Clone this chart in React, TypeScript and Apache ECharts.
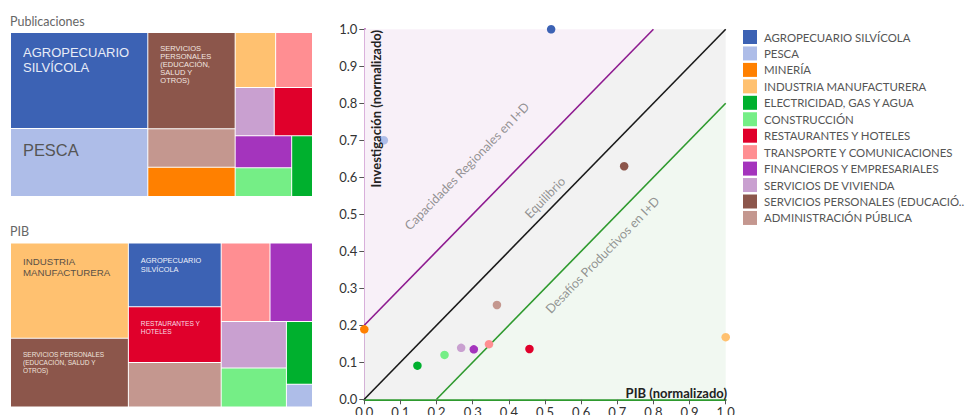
import React, { useEffect, useRef } from 'react';
import * as echarts from 'echarts';

// ---------- data ----------
const sectors = [
  'AGROPECUARIO SILVÍCOLA',
  'PESCA',
  'MINERÍA',
  'INDUSTRIA MANUFACTURERA',
  'ELECTRICIDAD, GAS Y AGUA',
  'CONSTRUCCIÓN',
  'RESTAURANTES Y HOTELES',
  'TRANSPORTE Y COMUNICACIONES',
  'FINANCIEROS Y EMPRESARIALES',
  'SERVICIOS DE VIVIENDA',
  'SERVICIOS PERSONALES (EDUCACIÓN, SALUD Y OTROS)',
  'ADMINISTRACIÓN PÚBLICA',
];
const sectorColors = [
  '#3c62b4', '#aebde8', '#ff8000', '#ffc170', '#00b02e', '#75ee86',
  '#e0002b', '#ff8e92', '#a434bd', '#c9a0d0', '#8c564b', '#c4978f',
];
// share of publications (%)
const publicaciones = [26.6, 18.9, 5.15, 4.5, 2.56, 3.27, 3.72, 4.1, 3.68, 3.8, 17.0, 6.8];
// share of GDP (%)
const pib = [11.95, 1.2, 0.01, 22.7, 3.3, 5.15, 10.45, 7.75, 6.75, 6.1, 16.35, 8.35];
// normalized values for the scatter
const pibNormalizado = [0.517, 0.054, 0.0, 1.0, 0.147, 0.222, 0.457, 0.345, 0.303, 0.268, 0.719, 0.367];
const investigacionNormalizado = [1.0, 0.70, 0.189, 0.168, 0.091, 0.12, 0.136, 0.149, 0.135, 0.139, 0.63, 0.255];

// treemap label texts (sector index -> text)
const pubLabelTexts: Record<number, string> = {
  0: 'AGROPECUARIO\nSILVÍCOLA',
  1: 'PESCA',
  10: 'SERVICIOS\nPERSONALES\n(EDUCACIÓN,\nSALUD Y\nOTROS)',
};
const pibLabelTexts: Record<number, string> = {
  3: 'INDUSTRIA\nMANUFACTURERA',
  0: 'AGROPECUARIO\nSILVÍCOLA',
  6: 'RESTAURANTES Y\nHOTELES',
  10: 'SERVICIOS PERSONALES\n(EDUCACIÓN, SALUD Y\nOTROS)',
};

// zone boundaries (data coordinates)
const lineCapacidades = [[0, 0.2], [0.8, 1]];
const lineEquilibrio = [[0, 0], [1, 1]];
const lineDesafios = [[0.2, 0], [1, 0.8]];
const zonePolygons = [
  [[0, 0.2], [0.8, 1], [0, 1]],
  [[0, 0], [0.2, 0], [1, 0.8], [1, 1], [0.8, 1], [0, 0.2]],
  [[0.2, 0], [1, 0], [1, 0.8]],
];
const zoneNames = ['Capacidades Regionales en I+D', 'Equilibrio', 'Desafíos Productivos en I+D'];
const zoneLabelAnchors = [[0.284, 0.63], [0.5, 0.545], [0.659, 0.39]];

// ---------- styles ----------
const pubLabelStyles: Record<number, any> = {
  0: { fontSize: 13, lineHeight: 15.3, color: '#e8ecf7' },
  1: { fontSize: 16.4, lineHeight: 18, color: '#555555' },
  10: { fontSize: 7.5, lineHeight: 7.8, color: '#f3e6e0' },
};
const pibLabelStyles: Record<number, any> = {
  3: { fontSize: 9.7, lineHeight: 11.6, color: '#5a5046' },
  0: { fontSize: 7.4, lineHeight: 9.6, color: '#eef1fa' },
  6: { fontSize: 6.6, lineHeight: 8.3, color: '#f8dde2' },
  10: { fontSize: 6.5, lineHeight: 7.7, color: '#efe3de' },
};
const zoneColors = ['#f8f0f8', '#f2f2f2', '#f1f8f1'];
const FONT = 'Lato, "Noto Sans", sans-serif';
const TM_FONT = '"Liberation Sans", Arial, sans-serif';

function treemapData(values: number[], labels: Record<number, string>, styles: Record<number, any>) {
  return values.map((v, i) => {
    const item: any = {
      name: sectors[i],
      value: v,
      itemStyle: { color: sectorColors[i] },
    };
    if (labels[i] !== undefined) {
      item.label = {
        show: true,
        formatter: labels[i],
        position: [12, 12],
        align: 'left',
        verticalAlign: 'top',
        padding: 0,
        fontFamily: TM_FONT,
        overflow: 'none',
        ...styles[i],
      };
    }
    return item;
  });
}

function treemapSeries(top: number, values: number[], labels: Record<number, string>, styles: Record<number, any>) {
  return {
    type: 'treemap',
    left: 11,
    top,
    width: 301,
    height: 163,
    roam: false,
    nodeClick: false,
    silent: true,
    sort: 'desc',
    breadcrumb: { show: false },
    itemStyle: { borderWidth: 0, gapWidth: 1, borderColor: '#ffffff' },
    label: { show: false, padding: 0 },
    upperLabel: { show: false },
    emphasis: { disabled: true },
    data: treemapData(values, labels, styles),
  };
}

export default function App() {
  const ref = useRef<HTMLDivElement>(null);
  useEffect(() => {
    if (!ref.current) return;
    const chart = echarts.init(ref.current, undefined, { renderer: 'svg' });

    const scatterSeries = sectors.map((name, i) => ({
      type: 'scatter',
      name,
      z: 5,
      clip: false,
      symbol: 'circle',
      symbolSize: 8.5,
      itemStyle: { color: sectorColors[i], opacity: 1 },
      data: [[pibNormalizado[i], investigacionNormalizado[i]]],
      emphasis: { disabled: true },
    }));

    const lineStyleFor = (color: string) => ({
      type: 'line',
      symbol: 'none',
      silent: true,
      z: 3,
      lineStyle: { color, width: 1.6 },
      emphasis: { disabled: true },
    });

    const option: any = {
      animation: false,
      textStyle: { fontFamily: FONT },
      title: [
        { text: 'Publicaciones', left: 10, top: 15, padding: 0, textStyle: { fontFamily: FONT, fontSize: 12.5, fontWeight: 'normal', color: '#666' } },
        { text: 'PIB', left: 10, top: 225, padding: 0, textStyle: { fontFamily: FONT, fontSize: 12.5, fontWeight: 'normal', color: '#666' } },
      ],
      legend: {
        data: sectors,
        orient: 'vertical',
        left: 743,
        top: 30,
        itemWidth: 14,
        itemHeight: 14,
        itemGap: 2.45,
        icon: 'rect',
        selectedMode: false,
        padding: 0,
        textStyle: {
          fontFamily: FONT,
          fontSize: 11.4,
          color: '#555',
          width: 204,
          overflow: 'truncate',
          ellipsis: '..',
          padding: [0, 0, 0, 2],
        },
      },
      grid: {
        left: 364.3,
        top: 29.3,
        right: 244.3,
        bottom: 15.7,
        containLabel: false,
        outerBoundsMode: 'none',
      },
      xAxis: {
        type: 'value',
        min: 0,
        max: 1,
        interval: 0.1,
        splitLine: { show: false },
        axisLine: { show: true, onZero: false, lineStyle: { color: '#2e9a2e', width: 2 } },
        axisTick: { show: true, length: 5, lineStyle: { color: '#555' } },
        axisLabel: { margin: 6, fontSize: 13, color: '#333', fontFamily: FONT, formatter: (v: number) => v.toFixed(1) },
      },
      yAxis: {
        type: 'value',
        min: 0,
        max: 1,
        interval: 0.1,
        splitLine: { show: false },
        axisLine: { show: true, onZero: false, lineStyle: { color: '#93219a', width: 2 } },
        axisTick: { show: true, length: 5, lineStyle: { color: '#555' } },
        axisLabel: { margin: 7, fontSize: 13, color: '#333', fontFamily: FONT, formatter: (v: number) => v.toFixed(1) },
      },
      graphic: [
        {
          type: 'text',
          x: 376,
          y: 30,
          rotation: Math.PI / 2,
          z: 10,
          style: {
            text: 'Investigación (normalizado)',
            font: `bold 13px ${FONT}`,
            fill: '#222',
            align: 'right',
            verticalAlign: 'middle',
          },
        },
        {
          type: 'text',
          x: 727,
          y: 393,
          z: 10,
          style: {
            text: 'PIB (normalizado)',
            font: `bold 13px ${FONT}`,
            fill: '#222',
            align: 'right',
            verticalAlign: 'middle',
          },
        },
      ],
      series: [
        treemapSeries(33, publicaciones, pubLabelTexts, pubLabelStyles),
        treemapSeries(243.5, pib, pibLabelTexts, pibLabelStyles),
        {
          type: 'custom',
          silent: true,
          z: 1,
          clip: false,
          data: zonePolygons.map((p) => p[0]),
          renderItem: (params: any, api: any) => {
            const poly = zonePolygons[params.dataIndex];
            return {
              type: 'polygon',
              shape: { points: poly.map((pt) => api.coord(pt)) },
              style: { fill: zoneColors[params.dataIndex] },
            };
          },
        },
        { ...lineStyleFor('#8e1b90'), data: lineCapacidades },
        { ...lineStyleFor('#1a1a1a'), data: lineEquilibrio },
        { ...lineStyleFor('#2e9a2e'), data: lineDesafios },
        {
          type: 'scatter',
          silent: true,
          z: 4,
          symbolSize: 1,
          itemStyle: { color: 'transparent' },
          data: zoneLabelAnchors.map((a, i) => ({ value: a, name: zoneNames[i] })),
          label: {
            show: true,
            position: 'inside',
            formatter: (p: any) => p.name,
            rotate: 45.7,
            fontSize: 12.6,
            color: '#7a7a7a',
            fontFamily: FONT,
          },
          emphasis: { disabled: true },
        },
        ...scatterSeries,
      ],
    };
    chart.setOption(option);
    return () => chart.dispose();
  }, []);
  return <div ref={ref} style={{ position: 'absolute', left: 0, top: 0, width: 970, height: 415 }} />;
}
